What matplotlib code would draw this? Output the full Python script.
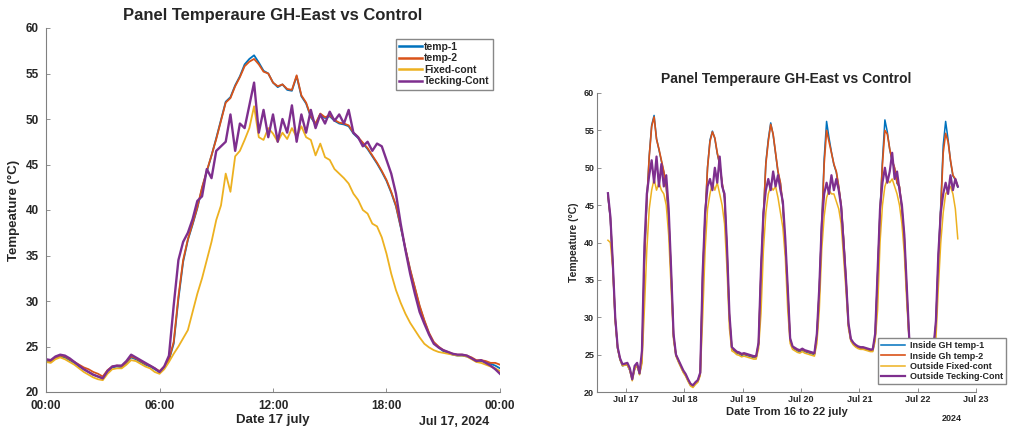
import numpy as np
import matplotlib
matplotlib.use("Agg")
import matplotlib.pyplot as plt

plt.rcParams['font.family'] = ['Liberation Sans', 'DejaVu Sans']

# ---------------- Left panel data: 17 July, every 15 min ----------------
left_title = "Panel Temperaure GH-East vs Control"
left_xticklabels = ["00:00", "06:00", "12:00", "18:00", "00:00"]
left_labels = ["temp-1", "temp-2", "Fixed-cont", "Tecking-Cont"]

left_temp1 = [23.4, 23.3, 23.7, 23.9, 23.8, 23.5, 23.2, 22.8, 22.5, 22.2, 21.9, 21.7, 21.5,
              22.3, 22.7, 22.8, 22.7, 23.2, 23.8, 23.6, 23.3, 23.0, 22.8, 22.5, 22.2, 22.7,
              23.5, 25.3, 30.2, 34.3, 36.7, 38.4, 40.2, 42.4, 44.2, 46.0, 47.9, 49.9, 51.9,
              52.4, 53.7, 54.7, 56.0, 56.6, 57.0, 56.2, 55.3, 55.0, 54.0, 53.5, 53.8, 53.2,
              53.1, 54.7, 52.5, 51.7, 50.2, 49.4, 50.5, 50.1, 50.3, 49.8, 49.5, 49.4, 49.2,
              48.4, 47.9, 47.3, 46.7, 45.9, 45.1, 44.2, 43.2, 41.9, 40.4, 38.1, 35.7, 33.4,
              31.4, 29.4, 27.8, 26.4, 25.4, 24.9, 24.5, 24.3, 24.1, 24.0, 24.0, 23.9, 23.7,
              23.4, 23.4, 23.3, 23.1, 22.9, 22.6]
left_temp2 = [23.5, 23.4, 23.8, 24.0, 23.9, 23.6, 23.3, 23.0, 22.7, 22.5, 22.2, 22.0, 21.7,
              22.4, 22.8, 22.9, 22.8, 23.3, 23.9, 23.7, 23.4, 23.1, 22.9, 22.6, 22.3, 22.8,
              23.6, 25.5, 30.5, 34.5, 36.8, 38.5, 40.3, 42.5, 44.3, 46.0, 47.8, 49.8, 51.8,
              52.3, 53.6, 54.6, 55.8, 56.3, 56.6, 56.0, 55.2, 55.0, 54.0, 53.6, 53.8, 53.3,
              53.2, 54.8, 52.6, 51.8, 50.3, 49.5, 50.6, 50.2, 50.4, 49.9, 49.6, 49.5, 49.3,
              48.5, 48.0, 47.4, 46.8, 46.0, 45.2, 44.3, 43.3, 42.0, 40.5, 38.2, 35.8, 33.5,
              31.5, 29.5, 27.9, 26.5, 25.5, 25.0, 24.6, 24.4, 24.2, 24.1, 24.1, 24.0, 23.8,
              23.5, 23.5, 23.4, 23.2, 23.2, 23.0]
left_fixed = [23.3, 23.2, 23.6, 23.8, 23.6, 23.3, 23.0, 22.6, 22.2, 21.9, 21.6, 21.4, 21.3,
              22.0, 22.5, 22.6, 22.6, 23.0, 23.5, 23.4, 23.1, 22.8, 22.6, 22.2, 22.0, 22.5,
              23.3, 24.2, 25.0, 25.9, 26.8, 28.8, 30.8, 32.5, 34.5, 36.5, 38.9, 40.5, 44.0,
              42.0, 45.9, 46.5, 47.7, 49.0, 51.4, 48.0, 47.7, 49.0, 48.4, 47.5, 48.5, 47.8,
              49.0, 48.0, 49.2, 48.0, 47.7, 46.0, 47.3, 45.8, 45.5, 44.5, 44.0, 43.5, 42.9,
              41.8, 41.1, 40.0, 39.6, 38.5, 38.2, 37.0, 35.2, 33.0, 31.2, 29.8, 28.6, 27.6,
              26.8, 26.0, 25.3, 24.9, 24.6, 24.4, 24.3, 24.2, 24.1, 24.0, 24.0, 23.9, 23.6,
              23.3, 23.2, 23.0, 22.8, 22.6, 22.3]
left_track = [23.6, 23.5, 23.9, 24.1, 24.0, 23.7, 23.3, 22.9, 22.5, 22.2, 21.9, 21.7, 21.5,
              22.3, 22.8, 22.9, 22.9, 23.4, 24.1, 23.8, 23.5, 23.2, 22.9, 22.6, 22.2, 22.8,
              24.0, 29.5, 34.5, 36.5, 37.5, 39.0, 41.0, 41.5, 44.5, 43.5, 46.5, 47.0, 47.5,
              50.5, 46.5, 49.5, 49.0, 51.5, 54.0, 48.5, 51.0, 48.0, 50.5, 47.5, 50.0, 48.5,
              51.5, 47.5, 50.5, 48.5, 51.0, 49.0, 50.5, 49.5, 50.8, 49.8, 50.5, 49.5, 51.0,
              48.5, 48.0, 47.0, 47.5, 46.5, 47.3, 47.0, 45.5, 44.0, 41.8, 38.5, 35.6, 33.0,
              30.8, 28.8, 27.5, 26.3, 25.3, 24.9, 24.6, 24.4, 24.2, 24.1, 24.1, 24.0, 23.7,
              23.4, 23.5, 23.2, 22.9, 22.5, 22.0]

# ---------------- Right panel data: 16-22 July, hourly (xx:30) ----------------
right_title = "Panel Temperaure GH-East vs Control"
right_xticklabels = ["Jul 17", "Jul 18", "Jul 19", "Jul 20", "Jul 21", "Jul 22", "Jul 23"]
right_labels = ["Inside GH temp-1", "Inside Gh temp-2", "Outside Fixed-cont", "Outside Tecking-Cont"]

right_temp1 = (
    [46.2, 43.2, 36.9, 29.7, 25.8, 24.3, 23.5, 23.6] +
    [23.6, 22.9, 21.7, 23.1, 23.6, 22.4, 24.2, 37.3, 45.4, 51.6, 55.7, 57.0, 53.9, 52.4, 50.9, 49.4, 47.4, 43.4, 35.9, 27.4, 24.9, 24.1, 23.4, 22.7] +
    [22.2, 21.5, 20.9, 20.7, 21.1, 21.4, 22.4, 35.3, 43.4, 50.1, 53.7, 54.9, 53.9, 51.9, 50.4, 47.9, 45.9, 38.9, 29.9, 25.8, 25.5, 25.2, 25.1, 24.9] +
    [25.0, 24.9, 24.8, 24.7, 24.6, 24.6, 26.4, 35.9, 43.6, 50.7, 53.8, 56.0, 54.4, 51.9, 49.4, 47.9, 44.9, 39.4, 33.4, 26.9, 25.9, 25.7, 25.5, 25.4] +
    [25.6, 25.4, 25.3, 25.2, 25.1, 25.0, 27.4, 33.6, 42.3, 51.2, 56.2, 54.0, 52.1, 50.4, 49.4, 47.4, 44.9, 40.4, 34.9, 28.9, 26.9, 26.4, 26.1, 25.9] +
    [25.8, 25.8, 25.7, 25.6, 25.5, 25.5, 27.4, 35.6, 44.3, 51.0, 56.4, 54.8, 52.4, 50.9, 49.9, 47.9, 47.4, 44.4, 40.4, 33.4, 26.9, 26.2, 25.9, 25.7] +
    [25.6, 25.5, 25.4, 25.4, 25.3, 25.3, 25.7, 29.2, 37.8, 45.0, 53.0, 56.2, 53.8, 50.9, 48.9, 48.4, 47.4])
right_temp2 = (
    [46.3, 43.3, 37.0, 29.8, 25.9, 24.4, 23.6, 23.7] +
    [23.7, 23.0, 21.8, 23.2, 23.7, 22.5, 24.3, 37.5, 45.5, 51.5, 55.5, 56.8, 53.8, 52.5, 51.0, 49.5, 47.5, 43.5, 36.0, 27.5, 25.0, 24.2, 23.5, 22.8] +
    [22.3, 21.6, 21.0, 20.8, 21.2, 21.5, 22.5, 35.5, 43.5, 50.0, 53.5, 54.8, 54.0, 52.0, 50.5, 48.0, 46.0, 39.0, 30.0, 25.9, 25.6, 25.3, 25.2, 25.0] +
    [25.1, 25.0, 24.9, 24.8, 24.7, 24.7, 26.5, 36.0, 43.5, 50.5, 53.5, 55.8, 54.5, 52.0, 49.5, 48.0, 45.0, 39.5, 33.5, 27.0, 26.0, 25.8, 25.6, 25.5] +
    [25.7, 25.5, 25.4, 25.3, 25.2, 25.1, 27.5, 33.5, 42.0, 50.5, 55.0, 53.5, 52.0, 50.5, 49.5, 47.5, 45.0, 40.5, 35.0, 29.0, 27.0, 26.5, 26.2, 26.0] +
    [25.9, 25.9, 25.8, 25.7, 25.6, 25.6, 27.5, 35.5, 44.0, 50.5, 55.0, 54.5, 52.5, 51.0, 50.0, 48.0, 47.5, 44.5, 40.5, 33.5, 27.0, 26.3, 26.0, 25.8] +
    [25.7, 25.6, 25.5, 25.5, 25.4, 25.4, 25.8, 29.0, 37.5, 44.5, 52.0, 54.6, 53.5, 51.0, 49.0, 48.5, 47.5])
right_fixed = (
    [40.3, 40.0, 36.5, 29.5, 25.8, 24.3, 23.5, 23.6] +
    [23.6, 22.9, 21.5, 23.0, 23.6, 22.3, 23.8, 31.0, 39.0, 44.5, 47.0, 48.5, 47.0, 48.0, 47.0, 46.5, 45.0, 41.0, 34.0, 27.0, 24.8, 24.0, 23.3, 22.6] +
    [22.1, 21.4, 20.8, 20.6, 21.0, 21.3, 22.2, 30.0, 39.0, 44.5, 46.5, 48.0, 47.0, 48.0, 46.5, 45.0, 42.5, 36.5, 28.5, 25.5, 25.3, 25.0, 24.9, 24.7] +
    [24.8, 24.7, 24.6, 24.5, 24.4, 24.4, 25.8, 30.5, 39.0, 44.0, 46.5, 47.5, 47.0, 47.5, 46.0, 44.0, 42.0, 38.0, 31.0, 26.5, 25.7, 25.5, 25.3, 25.2] +
    [25.4, 25.2, 25.1, 25.0, 24.9, 24.8, 26.5, 31.0, 39.0, 43.5, 46.0, 47.0, 46.5, 46.5, 45.5, 44.5, 42.5, 38.0, 33.5, 28.5, 26.8, 26.3, 26.0, 25.8] +
    [25.7, 25.7, 25.6, 25.5, 25.4, 25.4, 26.8, 31.0, 40.0, 45.0, 47.5, 48.5, 48.0, 48.5, 47.5, 46.5, 45.0, 42.5, 38.5, 32.0, 26.8, 26.1, 25.8, 25.6] +
    [25.5, 25.4, 25.3, 25.3, 25.2, 25.2, 25.6, 27.0, 34.0, 40.0, 44.0, 46.5, 47.0, 47.5, 46.5, 44.5, 40.5])
right_track = (
    [46.6, 43.5, 37.3, 30.0, 26.0, 24.5, 23.7, 23.8] +
    [23.9, 23.2, 21.7, 23.5, 23.9, 22.5, 25.5, 39.5, 46.5, 49.0, 51.0, 48.0, 51.5, 47.5, 50.5, 47.5, 49.0, 44.5, 36.5, 27.8, 25.0, 24.3, 23.6, 22.9] +
    [22.4, 21.7, 21.1, 20.9, 21.3, 21.6, 22.6, 36.0, 44.0, 47.5, 48.5, 47.0, 50.0, 48.0, 51.5, 47.5, 46.5, 39.5, 30.5, 26.0, 25.7, 25.4, 25.3, 25.1] +
    [25.2, 25.1, 25.0, 24.9, 24.8, 24.8, 26.6, 36.5, 44.0, 47.0, 48.5, 47.0, 49.5, 47.5, 49.0, 47.0, 45.5, 40.5, 34.0, 27.2, 26.1, 25.9, 25.7, 25.6] +
    [25.8, 25.6, 25.5, 25.4, 25.3, 25.2, 27.8, 34.0, 42.5, 46.5, 48.0, 46.5, 49.0, 47.0, 48.5, 47.0, 44.8, 40.0, 35.0, 29.2, 27.1, 26.6, 26.3, 26.1] +
    [26.0, 26.0, 25.9, 25.8, 25.7, 25.7, 27.8, 36.0, 44.5, 48.0, 50.0, 48.0, 49.5, 52.0, 48.5, 49.5, 47.0, 45.0, 41.0, 34.0, 27.3, 26.4, 26.1, 25.9] +
    [25.8, 25.7, 25.6, 25.6, 25.5, 25.5, 25.9, 29.5, 38.5, 44.0, 46.5, 48.0, 46.5, 49.0, 47.0, 48.5, 47.5])

colors = ["#0072BD", "#D95319", "#EDB120", "#7E2F8E"]
txt = "#262626"
axc = "#808080"

fig = plt.figure(figsize=(10.13, 4.30), dpi=100)

# ---------------- left axes ----------------
axL = fig.add_axes([46/1013, 38/430, 454/1013, 364/430])
hL = np.arange(len(left_temp1)) * 0.25
for ys, c, lab, lw in zip([left_temp1, left_temp2, left_fixed, left_track], colors, left_labels,
                          [1.3, 1.3, 1.3, 1.7]):
    axL.plot(hL, ys, color=c, lw=lw, label=lab)
axL.set_xlim(0, 24)
axL.set_ylim(20, 60)
axL.set_xticks([0, 6, 12, 18, 24])
axL.set_xticklabels(left_xticklabels)
axL.set_yticks(np.arange(20, 61, 5))
axL.set_title(left_title, fontsize=12, fontweight='bold', color=txt, pad=6)
axL.set_ylabel("Tempeature (°C)", fontsize=9.5, fontweight='bold', color=txt, labelpad=4)
axL.set_xlabel("Date 17 july", fontsize=9.5, fontweight='bold', color=txt, labelpad=1)
axL.text(0.90, -0.066, "Jul 17, 2024", transform=axL.transAxes, ha='center', va='top',
         fontsize=9, fontweight='bold', color=txt)
leg = axL.legend(loc='upper right', bbox_to_anchor=(0.995, 0.985), fontsize=7.5,
                 frameon=True, fancybox=False, edgecolor='#888888', framealpha=1,
                 handlelength=2.2, handletextpad=0.2, borderpad=0.3, labelspacing=0.15)
for t in leg.get_texts():
    t.set_fontweight('bold'); t.set_color(txt)
for l in leg.get_lines():
    l.set_linewidth(1.8)

# ---------------- right axes ----------------
axR = fig.add_axes([597/1013, 38/430, 379/1013, 299/430])
hR = -7.5 + np.arange(len(right_temp1))
for ys, c, lab, lw in zip([right_temp1, right_temp2, right_fixed, right_track], colors, right_labels,
                          [1.1, 1.2, 1.1, 1.6]):
    axR.plot(hR, ys, color=c, lw=lw, label=lab)
axR.set_xlim(-12, 144)
axR.set_ylim(20, 60)
axR.set_xticks(np.arange(0, 145, 24))
axR.set_xticklabels(right_xticklabels)
axR.set_yticks(np.arange(20, 61, 5))
axR.set_title(right_title, fontsize=10, fontweight='bold', color=txt, pad=7)
axR.set_ylabel("Tempeature (°C)", fontsize=7.5, fontweight='bold', color=txt, labelpad=4)
axR.set_xlabel("Date Trom 16 to 22 july", fontsize=8, fontweight='bold', color=txt, labelpad=2)
axR.text(0.935, -0.075, "2024", transform=axR.transAxes, ha='center', va='top',
         fontsize=6.5, fontweight='bold', color=txt)
legR = axR.legend(loc='lower right', bbox_to_anchor=(1011/1013, 41/430),
                  bbox_transform=fig.transFigure, fontsize=6.5, frameon=True, fancybox=False,
                  edgecolor='#888888', framealpha=1, handlelength=2.6, handletextpad=0.6,
                  borderpad=0.35, labelspacing=0.15)
for t in legR.get_texts():
    t.set_fontweight('bold'); t.set_color(txt)
legR.set_zorder(10)

for ax, fs in [(axL, 8.5), (axR, 6.5)]:
    for s in ['top', 'right']:
        ax.spines[s].set_visible(False)
    for s in ['left', 'bottom']:
        ax.spines[s].set_color(axc)
        ax.spines[s].set_linewidth(0.8)
    ax.tick_params(direction='in', length=3, width=0.6, color=axc, labelcolor=txt,
                   labelsize=fs, pad=2)
    for lab in ax.get_xticklabels() + ax.get_yticklabels():
        lab.set_fontweight('bold')
axL.tick_params(axis='x', pad=6)
axL.tick_params(axis='y', pad=5)

fig.savefig("out.png", dpi=100, facecolor='white')
